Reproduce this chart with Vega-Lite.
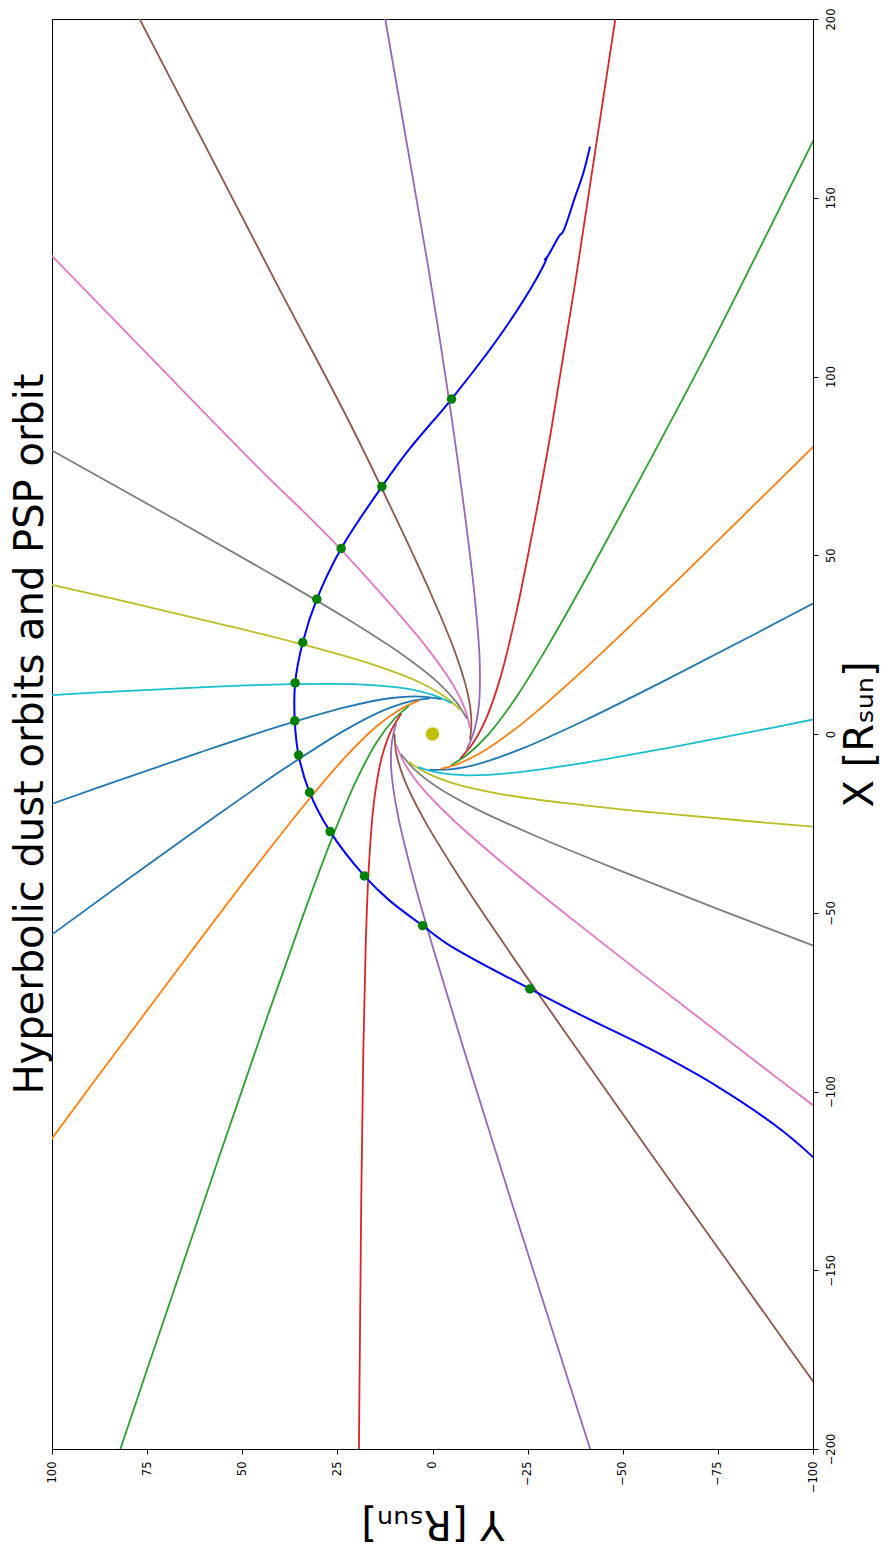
{
  "$schema": "https://vega.github.io/schema/vega-lite/v6.json",
  "width": 761,
  "height": 1430,
  "autosize": {"type": "none"},
  "padding": {"left": 52, "top": 19, "right": 68, "bottom": 102},
  "background": "white",
  "config": {"view": {"stroke": "black", "strokeWidth": 1}, "font": "DejaVu Sans"},
  "title": {"text": "Hyperbolic dust orbits and PSP orbit", "orient": "left", "anchor": "middle", "fontSize": 40, "font": "DejaVu Sans", "fontWeight": "normal", "color": "black", "offset": -5},
  "datasets": {
    "dust": [
      {"c":0,"i":0,"X":9.98,"Y":0.68},{"c":0,"i":1,"X":9.08,"Y":6.10},{"c":0,"i":2,"X":6.47,"Y":13.20},{"c":0,"i":3,"X":0.46,"Y":23.99},{"c":0,"i":4,"X":-9.61,"Y":38.82},{"c":0,"i":5,"X":-22.81,"Y":56.73},{"c":0,"i":6,"X":-40.64,"Y":80.10},{"c":0,"i":7,"X":-66.68,"Y":113.65},{"c":0,"i":8,"X":-106.04,"Y":163.91},{"c":0,"i":9,"X":-179.31,"Y":257.04},
      {"c":1,"i":0,"X":9.33,"Y":3.59},{"c":1,"i":1,"X":6.88,"Y":8.50},{"c":1,"i":2,"X":2.29,"Y":14.52},{"c":1,"i":3,"X":-6.63,"Y":23.06},{"c":1,"i":4,"X":-20.62,"Y":34.26},{"c":1,"i":5,"X":-38.51,"Y":47.49},{"c":1,"i":6,"X":-62.44,"Y":64.56},{"c":1,"i":7,"X":-97.21,"Y":88.95},{"c":1,"i":8,"X":-149.65,"Y":125.37},{"c":1,"i":9,"X":-247.11,"Y":192.77},
      {"c":2,"i":0,"X":7.86,"Y":6.18},{"c":2,"i":1,"X":4.06,"Y":10.15},{"c":2,"i":2,"X":-2.09,"Y":14.55},{"c":2,"i":3,"X":-13.14,"Y":20.08},{"c":2,"i":4,"X":-29.81,"Y":26.66},{"c":2,"i":5,"X":-50.80,"Y":34.02},{"c":2,"i":6,"X":-78.70,"Y":43.29},{"c":2,"i":7,"X":-119.11,"Y":56.34},{"c":2,"i":8,"X":-179.95,"Y":75.69},{"c":2,"i":9,"X":-292.95,"Y":111.37},
      {"c":3,"i":0,"X":5.69,"Y":8.22},{"c":3,"i":1,"X":0.89,"Y":10.90},{"c":3,"i":2,"X":-6.29,"Y":13.28},{"c":3,"i":3,"X":-18.47,"Y":15.32},{"c":3,"i":4,"X":-36.34,"Y":16.69},{"c":3,"i":5,"X":-58.57,"Y":17.54},{"c":3,"i":6,"X":-87.97,"Y":18.17},{"c":3,"i":7,"X":-130.43,"Y":18.73},{"c":3,"i":8,"X":-194.27,"Y":19.29},{"c":3,"i":9,"X":-312.76,"Y":20.07},
      {"c":4,"i":0,"X":3.01,"Y":9.54},{"c":4,"i":1,"X":-2.36,"Y":10.68},{"c":4,"i":2,"X":-9.92,"Y":10.84},{"c":4,"i":3,"X":-22.17,"Y":9.20},{"c":4,"i":4,"X":-39.65,"Y":5.24},{"c":4,"i":5,"X":-61.14,"Y":-0.50},{"c":4,"i":6,"X":-89.41,"Y":-8.57},{"c":4,"i":7,"X":-130.16,"Y":-20.54},{"c":4,"i":8,"X":-191.33,"Y":-38.83},{"c":4,"i":9,"X":-304.79,"Y":-73.01},
      {"c":5,"i":0,"X":0.07,"Y":10.00},{"c":5,"i":1,"X":-5.40,"Y":9.51},{"c":5,"i":2,"X":-12.68,"Y":7.43},{"c":5,"i":3,"X":-23.89,"Y":2.25},{"c":5,"i":4,"X":-39.43,"Y":-6.68},{"c":5,"i":5,"X":-58.27,"Y":-18.50},{"c":5,"i":6,"X":-82.91,"Y":-34.54},{"c":5,"i":7,"X":-118.31,"Y":-58.00},{"c":5,"i":8,"X":-171.38,"Y":-93.50},{"c":5,"i":9,"X":-269.72,"Y":-159.60},
      {"c":6,"i":0,"X":-2.88,"Y":9.58},{"c":6,"i":1,"X":-7.97,"Y":7.49},{"c":6,"i":2,"X":-14.31,"Y":3.37},{"c":6,"i":3,"X":-23.50,"Y":-4.89},{"c":6,"i":4,"X":-35.71,"Y":-18.01},{"c":6,"i":5,"X":-50.24,"Y":-34.86},{"c":6,"i":6,"X":-69.06,"Y":-57.45},{"c":6,"i":7,"X":-95.97,"Y":-90.30},{"c":6,"i":8,"X":-136.21,"Y":-139.87},{"c":6,"i":9,"X":-210.71,"Y":-232.03},
      {"c":7,"i":0,"X":-5.58,"Y":8.30},{"c":7,"i":1,"X":-9.82,"Y":4.81},{"c":7,"i":2,"X":-14.66,"Y":-1.00},{"c":7,"i":3,"X":-21.01,"Y":-11.60},{"c":7,"i":4,"X":-28.82,"Y":-27.73},{"c":7,"i":5,"X":-37.73,"Y":-48.11},{"c":7,"i":6,"X":-49.05,"Y":-75.24},{"c":7,"i":7,"X":-65.09,"Y":-114.57},{"c":7,"i":8,"X":-88.93,"Y":-173.79},{"c":7,"i":9,"X":-132.95,"Y":-283.81},
      {"c":8,"i":0,"X":-7.78,"Y":6.29},{"c":8,"i":1,"X":-10.80,"Y":1.70},{"c":8,"i":2,"X":-13.72,"Y":-5.28},{"c":8,"i":3,"X":-16.66,"Y":-17.28},{"c":8,"i":4,"X":-19.36,"Y":-34.99},{"c":8,"i":5,"X":-21.87,"Y":-57.10},{"c":8,"i":6,"X":-24.69,"Y":-86.36},{"c":8,"i":7,"X":-28.43,"Y":-128.66},{"c":8,"i":8,"X":-33.75,"Y":-192.28},{"c":8,"i":9,"X":-43.39,"Y":-310.39},
      {"c":9,"i":0,"X":-9.28,"Y":3.72},{"c":9,"i":1,"X":-10.83,"Y":-1.56},{"c":9,"i":2,"X":-11.55,"Y":-9.08},{"c":9,"i":3,"X":-10.83,"Y":-21.42},{"c":9,"i":4,"X":-8.19,"Y":-39.14},{"c":9,"i":5,"X":-4.07,"Y":-61.01},{"c":9,"i":6,"X":1.86,"Y":-89.80},{"c":9,"i":7,"X":10.76,"Y":-131.32},{"c":9,"i":8,"X":24.43,"Y":-193.69},{"c":9,"i":9,"X":50.03,"Y":-309.39},
      {"c":10,"i":0,"X":-9.97,"Y":0.81},{"c":10,"i":1,"X":-9.89,"Y":-4.68},{"c":10,"i":2,"X":-8.36,"Y":-12.09},{"c":10,"i":3,"X":-4.03,"Y":-23.66},{"c":10,"i":4,"X":3.71,"Y":-39.82},{"c":10,"i":5,"X":14.10,"Y":-59.49},{"c":10,"i":6,"X":28.25,"Y":-85.26},{"c":10,"i":7,"X":48.99,"Y":-122.32},{"c":10,"i":8,"X":80.43,"Y":-177.88},{"c":10,"i":9,"X":139.00,"Y":-280.89},
      {"c":11,"i":0,"X":-9.76,"Y":-2.16},{"c":11,"i":1,"X":-8.07,"Y":-7.38},{"c":11,"i":2,"X":-4.43,"Y":-14.01},{"c":11,"i":3,"X":3.12,"Y":-23.80},{"c":11,"i":4,"X":15.29,"Y":-36.96},{"c":11,"i":5,"X":31.01,"Y":-52.70},{"c":11,"i":6,"X":52.12,"Y":-73.15},{"c":11,"i":7,"X":82.87,"Y":-102.45},{"c":11,"i":8,"X":129.29,"Y":-146.28},{"c":11,"i":9,"X":215.62,"Y":-227.46},
      {"c":12,"i":0,"X":-8.69,"Y":-4.94},{"c":12,"i":1,"X":-5.53,"Y":-9.43},{"c":12,"i":2,"X":-0.10,"Y":-14.70},{"c":12,"i":3,"X":10.00,"Y":-21.82},{"c":12,"i":4,"X":25.50,"Y":-30.81},{"c":12,"i":5,"X":45.16,"Y":-41.22},{"c":12,"i":6,"X":71.37,"Y":-54.54},{"c":12,"i":7,"X":109.39,"Y":-73.47},{"c":12,"i":8,"X":169.35,"Y":-101.67},{"c":12,"i":9,"X":280.20,"Y":-153.79},
      {"c":13,"i":0,"X":-6.85,"Y":-7.29},{"c":13,"i":1,"X":-2.51,"Y":-10.65},{"c":13,"i":2,"X":4.24,"Y":-14.07},{"c":13,"i":3,"X":15.98,"Y":-17.90},{"c":13,"i":4,"X":33.45,"Y":-21.92},{"c":13,"i":5,"X":55.30,"Y":-26.07},{"c":13,"i":6,"X":84.27,"Y":-31.08},{"c":13,"i":7,"X":126.18,"Y":-37.50},{"c":13,"i":8,"X":189.22,"Y":-46.50},{"c":13,"i":9,"X":306.28,"Y":-63.30},
      {"c":14,"i":0,"X":-4.40,"Y":-8.98},{"c":14,"i":1,"X":0.74,"Y":-10.91},{"c":14,"i":2,"X":8.20,"Y":-12.20},{"c":14,"i":3,"X":20.55,"Y":-12.40},{"c":14,"i":4,"X":38.42,"Y":-11.09},{"c":14,"i":5,"X":60.53,"Y":-8.62},{"c":14,"i":6,"X":89.69,"Y":-4.86},{"c":14,"i":7,"X":131.76,"Y":1.30},{"c":14,"i":8,"X":194.97,"Y":11.60},{"c":14,"i":9,"X":312.26,"Y":30.80},
      {"c":15,"i":0,"X":-1.56,"Y":-9.88},{"c":15,"i":1,"X":3.93,"Y":-10.21},{"c":15,"i":2,"X":11.43,"Y":-9.24},{"c":15,"i":3,"X":23.29,"Y":-5.79},{"c":15,"i":4,"X":39.98,"Y":0.73},{"c":15,"i":5,"X":60.38,"Y":9.61},{"c":15,"i":6,"X":87.14,"Y":21.80},{"c":15,"i":7,"X":125.64,"Y":40.80},{"c":15,"i":8,"X":183.40,"Y":68.90},{"c":15,"i":9,"X":290.50,"Y":121.10},
      {"c":16,"i":0,"X":1.42,"Y":-9.90},{"c":16,"i":1,"X":6.76,"Y":-8.60},{"c":16,"i":2,"X":13.64,"Y":-5.46},{"c":16,"i":3,"X":23.96,"Y":1.33},{"c":16,"i":4,"X":37.99,"Y":12.48},{"c":16,"i":5,"X":54.87,"Y":26.98},{"c":16,"i":6,"X":75.30,"Y":46.51},{"c":16,"i":7,"X":106.30,"Y":74.98},{"c":16,"i":8,"X":153.40,"Y":118.00},{"c":16,"i":9,"X":241.40,"Y":198.02},
      {"c":17,"i":0,"X":4.28,"Y":-9.04},{"c":17,"i":1,"X":8.99,"Y":-6.22},{"c":17,"i":2,"X":14.65,"Y":-1.20},{"c":17,"i":3,"X":22.50,"Y":8.34},{"c":17,"i":4,"X":32.63,"Y":23.13},{"c":17,"i":5,"X":44.48,"Y":41.96},{"c":17,"i":6,"X":59.72,"Y":67.10},{"c":17,"i":7,"X":81.44,"Y":103.59},{"c":17,"i":8,"X":113.84,"Y":158.60},{"c":17,"i":9,"X":173.76,"Y":260.83},
      {"c":18,"i":0,"X":6.75,"Y":-7.38},{"c":18,"i":1,"X":10.43,"Y":-3.29},{"c":18,"i":2,"X":14.35,"Y":3.17},{"c":18,"i":3,"X":19.05,"Y":14.60},{"c":18,"i":4,"X":24.36,"Y":31.71},{"c":18,"i":5,"X":30.13,"Y":53.20},{"c":18,"i":6,"X":37.29,"Y":81.71},{"c":18,"i":7,"X":47.28,"Y":122.99},{"c":18,"i":8,"X":62.03,"Y":185.10},{"c":18,"i":9,"X":89.17,"Y":300.45},
      {"c":19,"i":0,"X":8.63,"Y":-5.06},{"c":19,"i":1,"X":10.94,"Y":-0.07},{"c":19,"i":2,"X":12.78,"Y":7.26},{"c":19,"i":3,"X":13.90,"Y":19.57},{"c":19,"i":4,"X":13.93,"Y":37.49},{"c":19,"i":5,"X":13.11,"Y":59.72},{"c":19,"i":6,"X":11.55,"Y":89.08},{"c":19,"i":7,"X":8.93,"Y":131.46},{"c":19,"i":8,"X":4.71,"Y":195.17},{"c":19,"i":9,"X":-3.36,"Y":313.39},
      {"c":20,"i":0,"X":9.73,"Y":-2.29},{"c":20,"i":1,"X":10.47,"Y":3.15},{"c":20,"i":2,"X":10.07,"Y":10.71},{"c":20,"i":3,"X":7.51,"Y":22.79},{"c":20,"i":4,"X":2.26,"Y":39.93},{"c":20,"i":5,"X":-5.07,"Y":60.93},{"c":20,"i":6,"X":-15.22,"Y":88.52},{"c":20,"i":7,"X":-30.21,"Y":128.25},{"c":20,"i":8,"X":-53.02,"Y":187.89},{"c":20,"i":9,"X":-95.58,"Y":298.48}
    ],
    "psp": [
      {"i":0,"X":-126.2,"Y":-107.9},{"i":1,"X":-111.2,"Y":-92.2},{"i":2,"X":-98.5,"Y":-74.7},{"i":3,"X":-88.1,"Y":-57.2},{"i":4,"X":-78.9,"Y":-39.55},{"i":5,"X":-71.3,"Y":-25.6},{"i":6,"X":-59.2,"Y":-4.6},{"i":7,"X":-53.6,"Y":2.6},{"i":8,"X":-46.4,"Y":11.5},{"i":9,"X":-39.7,"Y":17.9},{"i":10,"X":-27.3,"Y":26.9},{"i":11,"X":-16.3,"Y":32.3},{"i":12,"X":-5.9,"Y":35.2},{"i":13,"X":3.7,"Y":36.2},{"i":14,"X":14.3,"Y":36.1},{"i":15,"X":25.6,"Y":34.1},{"i":16,"X":37.7,"Y":30.4},{"i":17,"X":51.9,"Y":24.0},{"i":18,"X":69.2,"Y":13.3},{"i":19,"X":79.4,"Y":6.3},{"i":20,"X":93.7,"Y":-5.0},{"i":21,"X":111.4,"Y":-17.7},{"i":22,"X":127.5,"Y":-27.4},{"i":23,"X":133.1,"Y":-30.0},{"i":24,"X":132.7,"Y":-29.5},{"i":25,"X":133.6,"Y":-30.25},{"i":26,"X":139.6,"Y":-33.5},{"i":27,"X":140.3,"Y":-34.2},{"i":28,"X":150.3,"Y":-37.5},{"i":29,"X":156.8,"Y":-39.6},{"i":30,"X":164.3,"Y":-41.4}
    ],
    "dots": [
      {"X":93.7,"Y":-5.0},{"X":69.2,"Y":13.3},{"X":51.9,"Y":24.0},{"X":37.7,"Y":30.4},{"X":25.6,"Y":34.1},{"X":14.3,"Y":36.1},{"X":3.7,"Y":36.2},{"X":-5.9,"Y":35.2},{"X":-16.3,"Y":32.3},{"X":-27.3,"Y":26.9},{"X":-39.7,"Y":17.9},{"X":-53.6,"Y":2.6},{"X":-71.3,"Y":-25.6}
    ],
    "sun": [{"X":0,"Y":0}]
  },
  "encoding": {
    "x": {"field": "Y", "type": "quantitative",
      "scale": {"domain": [-100, 100], "reverse": true, "nice": false, "zero": false},
      "axis": {"orient": "bottom", "values": [-100,-75,-50,-25,0,25,50,75,100], "labelAngle": 270, "labelAlign": "right", "labelBaseline": "middle", "labelFontSize": 11.5, "labelFont": "DejaVu Sans", "labelColor": "black", "labelPadding": 7, "labelOverlap": false, "labelFlush": false, "tickColor": "black", "tickSize": 5, "tickWidth": 1, "domain": false, "grid": false,
        "title": "Y [Rₛᵤₙ]", "titleAngle": 180, "titleBaseline": "bottom", "titleFontSize": 40, "titleFont": "DejaVu Sans", "titleFontWeight": "normal", "titleColor": "black", "titlePadding": 10}},
    "y": {"field": "X", "type": "quantitative",
      "scale": {"domain": [-200, 200], "nice": false, "zero": false},
      "axis": {"orient": "right", "values": [-200,-150,-100,-50,0,50,100,150,200], "labelAngle": 270, "labelAlign": "center", "labelBaseline": "top", "labelFontSize": 11.5, "labelFont": "DejaVu Sans", "labelColor": "black", "labelPadding": 7, "labelOverlap": false, "labelFlush": false, "tickColor": "black", "tickSize": 5, "tickWidth": 1, "domain": false, "grid": false,
        "title": "X [Rₛᵤₙ]", "titleAngle": 270, "titleBaseline": "top", "titleFontSize": 40, "titleFont": "DejaVu Sans", "titleFontWeight": "normal", "titleColor": "black", "titlePadding": 4}}
  },
  "layer": [
    {
      "data": {"name": "dust"},
      "mark": {"type": "line", "interpolate": "catmull-rom", "strokeWidth": 1.8, "clip": true},
      "encoding": {
        "color": {"field": "c", "type": "nominal", "legend": null,
          "scale": {"domain": [0,1,2,3,4,5,6,7,8,9,10,11,12,13,14,15,16,17,18,19,20],
            "range": ["#1f77b4","#ff7f0e","#2ca02c","#d62728","#9467bd","#8c564b","#e377c2","#7f7f7f","#bcbd22","#17becf","#1f77b4","#ff7f0e","#2ca02c","#d62728","#9467bd","#8c564b","#e377c2","#7f7f7f","#bcbd22","#17becf","#1f77b4"]}},
        "order": {"field": "i", "type": "quantitative"}
      }
    },
    {
      "data": {"name": "psp"},
      "mark": {"type": "line", "interpolate": "catmull-rom", "strokeWidth": 2, "color": "#0000ff", "clip": true},
      "encoding": {"order": {"field": "i", "type": "quantitative"}}
    },
    {
      "data": {"name": "dots"},
      "mark": {"type": "circle", "size": 90, "color": "#008000", "opacity": 1}
    },
    {
      "data": {"name": "sun"},
      "mark": {"type": "circle", "size": 180, "color": "#bfbf00", "opacity": 1}
    }
  ]
}
